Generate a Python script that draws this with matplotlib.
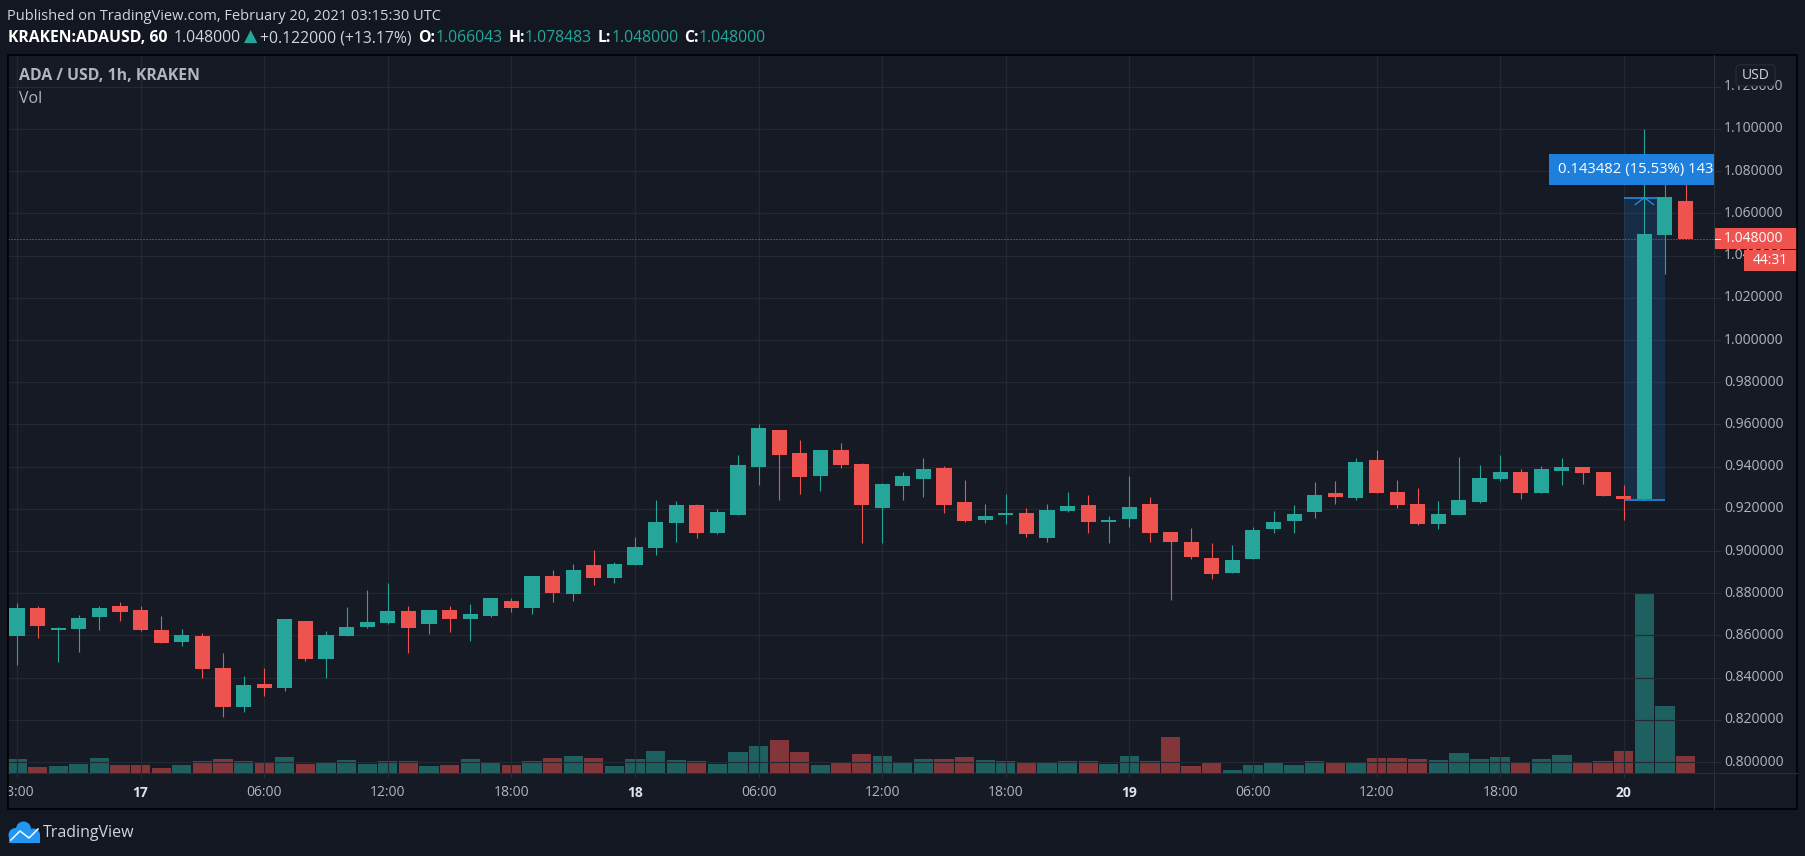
"""
ADA/USD 1h candles (Kraken) in TradingView dark style, with volume overlay,
price scale on the right and a price-range measure over the breakout candle.
Output: out.png (1805x856).
"""

import matplotlib

matplotlib.use("Agg")
import matplotlib.pyplot as plt
from matplotlib.patches import Rectangle, Circle, FancyBboxPatch
import numpy as np

W, H = 1805, 856

# --- data: hourly candles, Feb 16 18:00 -> Feb 20 03:00 UTC ---

OPEN = [
    0.8597, 0.8730, 0.8625, 0.8630, 0.8687, 0.8740,
    0.8721, 0.8625, 0.8568, 0.8597, 0.8444, 0.8263, 0.8368, 0.8349, 0.8668, 0.8487, 0.8597, 0.8640,
    0.8659, 0.8716, 0.8654, 0.8721, 0.8678, 0.8694, 0.8765, 0.8732, 0.8883, 0.8797, 0.8932, 0.8870,
    0.8932, 0.9013, 0.9135, 0.9216, 0.9087, 0.9173, 0.9397, 0.9573, 0.9463, 0.9354, 0.9478, 0.9411,
    0.9206, 0.9308, 0.9340, 0.9392, 0.9230, 0.9149, 0.9170, 0.9179, 0.9063, 0.9189, 0.9217, 0.9137,
    0.9151, 0.9222, 0.9089, 0.9041, 0.8965, 0.8898, 0.8960, 0.9103, 0.9141, 0.9184, 0.9275, 0.9251,
    0.9432, 0.9279, 0.9222, 0.9127, 0.9170, 0.9232, 0.9341, 0.9375, 0.9275, 0.9379, 0.9398, 0.9375,
    0.9259, 0.9246, 1.0498, 1.0660,
]
HIGH = [
    0.8754, 0.8740, 0.8640, 0.8697, 0.8740, 0.8759,
    0.8740, 0.8692, 0.8630, 0.8611, 0.8516, 0.8406, 0.8444, 0.8678, 0.8668, 0.8621, 0.8735, 0.8816,
    0.8849, 0.8740, 0.8721, 0.8740, 0.8749, 0.8779, 0.8779, 0.8883, 0.8911, 0.8940, 0.9003, 0.8946,
    0.9065, 0.9240, 0.9235, 0.9221, 0.9198, 0.9454, 0.9602, 0.9573, 0.9527, 0.9478, 0.9511, 0.9416,
    0.9321, 0.9375, 0.9440, 0.9402, 0.9335, 0.9225, 0.9270, 0.9203, 0.9222, 0.9279, 0.9265, 0.9165,
    0.9356, 0.9256, 0.9089, 0.9108, 0.9040, 0.9027, 0.9113, 0.9189, 0.9217, 0.9327, 0.9332, 0.9441,
    0.9479, 0.9335, 0.9298, 0.9237, 0.9446, 0.9408, 0.9456, 0.9389, 0.9402, 0.9440, 0.9398, 0.9375,
    0.9311, 1.1000, 1.0802, 1.0785,
]
LOW = [
    0.8459, 0.8587, 0.8473, 0.8521, 0.8625, 0.8668,
    0.8621, 0.8563, 0.8549, 0.8397, 0.8211, 0.8235, 0.8311, 0.8335, 0.8478, 0.8397, 0.8597, 0.8635,
    0.8654, 0.8516, 0.8606, 0.8617, 0.8575, 0.8689, 0.8713, 0.8703, 0.8760, 0.8765, 0.8837, 0.8846,
    0.8932, 0.8979, 0.9044, 0.9063, 0.9079, 0.9173, 0.9311, 0.9241, 0.9268, 0.9283, 0.9392, 0.9040,
    0.9040, 0.9241, 0.9254, 0.9182, 0.9137, 0.9132, 0.9127, 0.9065, 0.9044, 0.9184, 0.9084, 0.9040,
    0.9113, 0.9041, 0.8770, 0.8960, 0.8865, 0.8898, 0.8960, 0.9084, 0.9084, 0.9156, 0.9222, 0.9241,
    0.9275, 0.9203, 0.9122, 0.9103, 0.9170, 0.9227, 0.9332, 0.9246, 0.9275, 0.9313, 0.9317, 0.9260,
    0.9146, 0.9243, 1.0313, 1.0480,
]
CLOSE = [
    0.8730, 0.8644, 0.8635, 0.8683, 0.8730, 0.8711,
    0.8625, 0.8563, 0.8602, 0.8440, 0.8263, 0.8363, 0.8349, 0.8678, 0.8487, 0.8602, 0.8640, 0.8663,
    0.8716, 0.8635, 0.8721, 0.8678, 0.8702, 0.8775, 0.8732, 0.8883, 0.8802, 0.8911, 0.8870, 0.8937,
    0.9017, 0.9137, 0.9216, 0.9087, 0.9184, 0.9406, 0.9583, 0.9454, 0.9349, 0.9478, 0.9406, 0.9216,
    0.9316, 0.9356, 0.9387, 0.9216, 0.9144, 0.9167, 0.9179, 0.9079, 0.9194, 0.9213, 0.9137, 0.9146,
    0.9208, 0.9084, 0.9041, 0.8970, 0.8889, 0.8956, 0.9098, 0.9137, 0.9175, 0.9265, 0.9256, 0.9422,
    0.9275, 0.9217, 0.9127, 0.9175, 0.9241, 0.9346, 0.9375, 0.9275, 0.9387, 0.9398, 0.9370, 0.9260,
    0.9246, 1.0503, 1.0679, 1.0480,
]
# volume, thousand ADA
VOLUME = [
    143, 63, 73, 93, 153, 83,
    83, 53, 83, 123, 143, 123, 113, 163, 93, 103, 133, 93,
    123, 123, 73, 83, 143, 113, 83, 123, 153, 173, 153, 73,
    143, 223, 133, 123, 93, 213, 273, 333, 213, 83, 103, 193,
    173, 103, 143, 143, 163, 133, 123, 103, 103, 123, 123, 93,
    173, 123, 363, 73, 113, 33, 83, 103, 83, 123, 103, 113,
    153, 153, 143, 133, 203, 143, 163, 113, 143, 183, 113, 123,
    223, 1793, 673, 173,
]

TIME_TICKS = [0, 6, 12, 18, 24, 30, 36, 42, 48, 54, 60, 66, 72, 78]
TIME_LABELS = ["18:00", "17", "06:00", "12:00", "18:00", "18", "06:00",
               "12:00", "18:00", "19", "06:00", "12:00", "18:00", "20"]
DAY_LABELS = ["17", "18", "19", "20"]
PRICE_TICKS = [0.80, 0.82, 0.84, 0.86, 0.88, 0.90, 0.92, 0.94, 0.96,
               0.98, 1.00, 1.02, 1.04, 1.06, 1.08, 1.10, 1.12]

LAST_PRICE = 1.048
MEASURE_FROM, MEASURE_TO = 0.9240, 1.067482
MEASURE_X = (78, 80)
MEASURE_TEXT = "0.143482 (15.53%) 14348"

# --- style ---
BG = "#131722"
CHART_BG = "#161a25"
GRID = "#242833"
SEP = "#2a2e39"
UP, DOWN = "#26a69a", "#ef5350"
VOL_UP, VOL_DOWN = "#1e605f", "#82363a"
AXIS_TXT = "#b2b5be"
HEAD_TXT = "#d1d4dc"
BLUE = "#1e80dc"
FONT = ["Open Sans", "DejaVu Sans"]
PX = 0.72  # 1 pixel in points at dpi 100
AXIS_FS = 10

# layout in figure pixels
L, R, T, B = 8, 1714, 55, 773        # price pane
R2, B2 = 1797, 809                   # outer frame
YBOT, YTOP = 0.79479, 1.13507
XLEFT, XRIGHT = -0.437, 82.38


def rect(x0, y0, x1, y1):
    return [x0 / W, 1 - y1 / H, (x1 - x0) / W, (y1 - y0) / H]


plt.rcParams["font.family"] = FONT
fig = plt.figure(figsize=(W / 100, H / 100), dpi=100, facecolor=BG)

bg = fig.add_axes([0, 0, 1, 1], zorder=0)
bg.set_xlim(0, W)
bg.set_ylim(H, 0)
bg.axis("off")
bg.add_patch(Rectangle((L, T), R2 - L, B2 - T, facecolor=CHART_BG, edgecolor="none"))

# volume pane (under the candles)
axv = fig.add_axes(rect(L, T, R, B), zorder=1)
axv.set_facecolor("none")
axv.set_xlim(XLEFT, XRIGHT)
axv.set_ylim(0, max(VOLUME) / 0.25)
axv.axis("off")

ax = fig.add_axes(rect(L, T, R, B), zorder=2, sharex=axv)
ax.set_facecolor("none")
ax.set_xlim(XLEFT, XRIGHT)
ax.set_ylim(YBOT, YTOP)
for s in ax.spines.values():
    s.set_visible(False)
ax.tick_params(left=False, bottom=False, labelleft=False, labelbottom=False)

ppx = (YTOP - YBOT) / (B - T)  # price per pixel

o, h, l, c = map(np.array, (OPEN, HIGH, LOW, CLOSE))
x = np.arange(len(o))
up = c >= o
colors = np.where(up, UP, DOWN)

# grid
for p in PRICE_TICKS:
    ax.axhline(p, color=GRID, lw=1.2 * PX, zorder=0)
for t in TIME_TICKS:
    ax.axvline(t, color=GRID, lw=1.2 * PX, zorder=0)

axv.bar(x, VOLUME, width=0.94, color=np.where(up, VOL_UP, VOL_DOWN), zorder=1)

# measure tool (behind candles)
m0, m1 = MEASURE_X
ax.add_patch(Rectangle((m0, MEASURE_FROM), m1 - m0, MEASURE_TO - MEASURE_FROM,
                       facecolor="#2196f3", alpha=0.16, edgecolor="none", zorder=1))
ax.hlines([MEASURE_FROM, MEASURE_TO], m0, m1, color="#2196f3", lw=1.5 * PX, zorder=1)
mx = (m0 + m1) / 2
ax.plot([mx - 0.45, mx, mx + 0.45], [MEASURE_TO - 7 * ppx, MEASURE_TO, MEASURE_TO - 7 * ppx],
        color="#2196f3", lw=1.2 * PX, zorder=1)

# last price line
ax.axhline(LAST_PRICE, color=DOWN, lw=1 * PX, ls=(0, (1, 2)), zorder=2)

# candles
ax.vlines(x, l, h, colors=colors, lw=1.1 * PX, zorder=3)
body = np.maximum(np.abs(c - o), 1.2 * ppx)
ax.bar(x, body, bottom=np.minimum(o, c), width=0.73, color=colors, zorder=4)

# measure label (clipped by price scale)
lab_c = MEASURE_TO + 28.5 * ppx
ax.add_patch(Rectangle((74.37, lab_c - 15.5 * ppx), 12, 31 * ppx,
                       facecolor=BLUE, edgecolor="none", zorder=6))
ax.text(74.8, lab_c, MEASURE_TEXT, color="white", fontsize=10.7, va="center",
        ha="left", zorder=7, clip_on=True)

# chart legend
ax.text(11 / (R - L), 1 - 21 / (B - T), "ADA / USD, 1h, KRAKEN", transform=ax.transAxes,
        color=AXIS_TXT, fontsize=11.4, fontweight="bold", va="center", ha="left")
ax.text(11 / (R - L), 1 - 44 / (B - T), "Vol", transform=ax.transAxes,
        color=AXIS_TXT, fontsize=11.4, va="center", ha="left")

# --- price scale ---
axp = fig.add_axes(rect(R, T, R2, B), zorder=3)
axp.set_xlim(0, R2 - R)
axp.set_ylim(YBOT, YTOP)
axp.axis("off")
for p in PRICE_TICKS:
    axp.plot([0, 6], [p, p], color=SEP, lw=1 * PX)
    axp.text(10, p, f"{p:.6f}", color=AXIS_TXT, fontsize=AXIS_FS, va="center", ha="left")
axp.add_patch(Rectangle((0, LAST_PRICE - 10.5 * ppx), R2 - R, 21 * ppx,
                        facecolor=DOWN, edgecolor="none", zorder=5))
axp.plot([0, 6], [LAST_PRICE, LAST_PRICE], color="white", lw=1 * PX, zorder=6)
axp.text(10, LAST_PRICE, f"{LAST_PRICE:.6f}", color="white", fontsize=AXIS_FS,
         va="center", ha="left", zorder=6)
cd = LAST_PRICE - 21.5 * ppx
axp.add_patch(Rectangle((30, cd - 10.5 * ppx), R2 - R - 30, 21 * ppx,
                        facecolor=DOWN, edgecolor="none", zorder=5))
axp.text((30 + R2 - R) / 2, cd, "44:31", color="white", fontsize=AXIS_FS,
         va="center", ha="center", zorder=6)
# currency badge, sitting on top of the 1.12 label
axp.add_patch(FancyBboxPatch((22, 1.12 + 1 * ppx), 39, 21 * ppx,
                             boxstyle="round,pad=0,rounding_size=4",
                             mutation_aspect=ppx,
                             facecolor=CHART_BG, edgecolor=SEP, lw=1 * PX, zorder=5))
axp.text(41.5, 1.12 + 11.5 * ppx, "USD", color=HEAD_TXT, fontsize=AXIS_FS,
         va="center", ha="center", zorder=6)

# --- time scale ---
axt = fig.add_axes(rect(L, B, R, B2), zorder=3, sharex=axv)
axt.set_xlim(XLEFT, XRIGHT)
axt.set_ylim(B2 - B, 0)
axt.axis("off")
for t, lab in zip(TIME_TICKS, TIME_LABELS):
    day = lab in DAY_LABELS
    axt.plot([t, t], [0, 4], color=SEP, lw=1 * PX)
    axt.text(t, 20, lab, ha="center", va="center", fontsize=AXIS_FS,
             color="#e0e3eb" if day else AXIS_TXT,
             fontweight="bold" if day else "normal", clip_on=True)

# --- frame, separators, header, footer ---
fg = fig.add_axes([0, 0, 1, 1], zorder=4)
fg.set_xlim(0, W)
fg.set_ylim(H, 0)
fg.axis("off")
fg.plot([R, R], [T, B2], color=SEP, lw=1 * PX)
fg.plot([L, R2], [B, B], color=SEP, lw=1 * PX)
fg.add_patch(Rectangle((L, T), R2 - L, B2 - T, facecolor="none", edgecolor="black", lw=1.6 * PX))

fg.text(7, 16, "Published on TradingView.com, February 20, 2021 03:15:30 UTC",
        color=HEAD_TXT, fontsize=10.5, va="center", ha="left")

renderer = fig.canvas.get_renderer()
header = [
    ("KRAKEN:ADAUSD, 60", "white", "bold", 6, 11.3),
    ("1.048000", HEAD_TXT, "normal", 3, 11.3),
    ("▲", UP, "normal", 3, 12.5),
    ("+0.122000 (+13.17%)", HEAD_TXT, "normal", 7, 11.3),
    ("O:", "white", "bold", 0, 11.3),
    ("1.066043", UP, "normal", 6, 11.3),
    ("H:", "white", "bold", 0, 11.3),
    ("1.078483", UP, "normal", 6, 11.3),
    ("L:", "white", "bold", 0, 11.3),
    ("1.048000", UP, "normal", 6, 11.3),
    ("C:", "white", "bold", 0, 11.3),
    ("1.048000", UP, "normal", 0, 11.3),
]
hx = 8
for s, col, wt, gap, fs in header:
    txt = fg.text(hx, 38, s, color=col, fontsize=fs, fontweight=wt, va="center", ha="left")
    hx += txt.get_window_extent(renderer).width + gap

# TradingView logo
logo = "#2196f3"
for cx, cy, r in [(15.5, 835, 7), (23.5, 829, 7.5), (33.5, 835, 6.5)]:
    fg.add_patch(Circle((cx, cy), r, facecolor=logo, edgecolor="none"))
fg.add_patch(Rectangle((9, 834), 31, 8.5, facecolor=logo, edgecolor="none"))
fg.plot([11, 20, 29, 38], [840, 831, 838, 829], color="white", lw=1.5 * PX)
fg.text(43, 833, "TradingView", color=HEAD_TXT, fontsize=11.5, va="center", ha="left")

fig.savefig("out.png", dpi=100, facecolor=BG)
